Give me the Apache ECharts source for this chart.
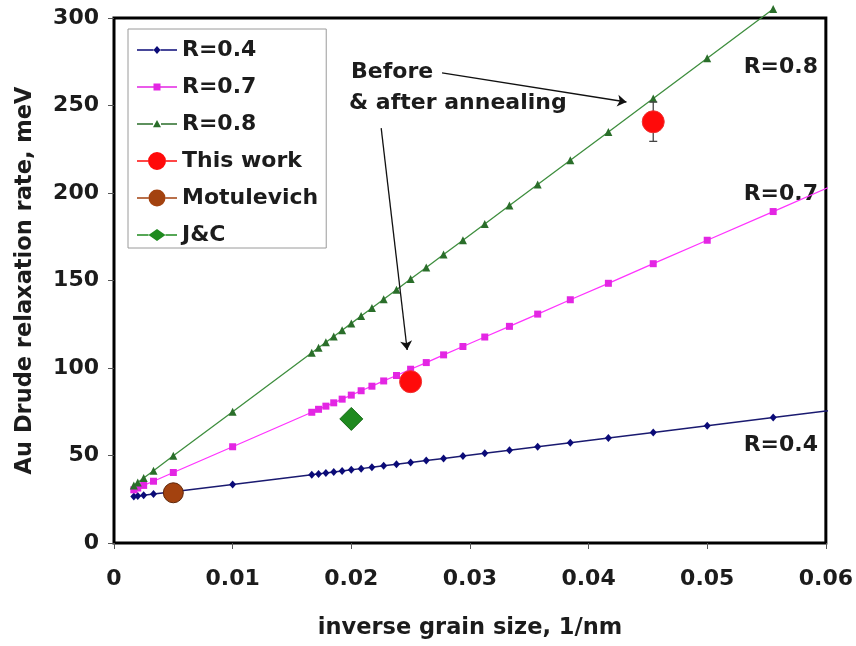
<!DOCTYPE html>
<html><head><meta charset="utf-8">
<script src="https://cdn.jsdelivr.net/npm/echarts@6/dist/echarts.min.js"></script>
<style>html,body{margin:0;padding:0;background:#fff}#c{width:856px;height:646px}</style>
</head><body><div id="c"></div>
<script>
// ---- data ----
const inverseSize = [0.00167,0.002,0.0025,0.00333,0.005,0.01,0.01667,0.01724,0.01786,0.01852,0.01923,0.02,0.02083,0.02174,0.02273,0.02381,0.025,0.02632,0.02778,0.02941,0.03125,0.03333,0.03571,0.03846,0.04167,0.04545,0.05,0.05556,0.0625];
const r04 = [26.6,26.9,27.3,28.0,29.3,33.4,39.0,39.5,40.0,40.6,41.2,41.8,42.5,43.3,44.1,45.0,46.0,47.1,48.3,49.7,51.3,53.0,55.0,57.3,60.0,63.2,67.0,71.7,77.5];
const r07 = [30.4,31.4,32.9,35.3,40.3,55.0,74.7,76.4,78.2,80.1,82.2,84.5,87.0,89.6,92.6,95.7,99.3,103.1,107.5,112.3,117.7,123.8,130.8,139.0,148.4,159.6,173.0,189.4,209.9];
const r08 = [32.9,34.6,37.1,41.3,49.8,75.0,108.7,111.6,114.7,118.0,121.6,125.5,129.7,134.3,139.3,144.7,150.8,157.4,164.8,173.0,182.3,192.8,204.8,218.7,234.9,254.0,277.0,305.1];
const thisWork = [[0.025, 92.2], [0.04545, 240.7]];
const thisWorkErr = [[0.04545, 229.5, 252.0]];
const motulevich = [[0.005, 28.7]];
const jc = [[0.02, 70.9]];
const xTicks = [0, 0.01, 0.02, 0.03, 0.04, 0.05, 0.06];
const yTicks = [0, 50, 100, 150, 200, 250, 300];
const seriesNames = ['R=0.4', 'R=0.7', 'R=0.8', 'This work', 'Motulevich', 'J&C'];
const annotationArrows = [
  [[0.02765, 268.6], [0.04319, 252.0]],
  [[0.02252, 237.1], [0.02471, 110.3]]
];
const noteLines = ['Before', '& after annealing'];
const curveLabels = ['R=0.8', 'R=0.7', 'R=0.4'];

// ---- helpers ----
function pairs(xs, ys) { return ys.map((y, i) => [xs[i], y]); }
const FONT = '"DejaVu Sans", "Liberation Sans", Arial, sans-serif';

// legend icons: 40x20 box, line through middle plus marker
function icon(shape, hw) {
  const a = 'M0 0 L0.01 0 L0.01 0.01 Z M39.99 19.99 L40 19.99 L40 20 L39.99 20 Z ';
  const l = 20 - hw, r = 20 + hw;
  const line = `M0 9.3 L${l} 9.3 L${l} 10.7 L0 10.7 Z M${r} 9.3 L40 9.3 L40 10.7 L${r} 10.7 Z `;
  let s = '';
  if (shape === 'diamond') s = `M20 ${10-hw-0.5} L${r} 10 L20 ${10+hw+0.5} L${l} 10 Z`;
  else if (shape === 'diamondWide') s = `M20 ${10-hw*0.72} L${r} 10 L20 ${10+hw*0.72} L${l} 10 Z`;
  else if (shape === 'square') s = `M${l} ${10-hw} L${r} ${10-hw} L${r} ${10+hw} L${l} ${10+hw} Z`;
  else if (shape === 'triangle') s = `M20 ${10-hw} L${r} ${10+hw*0.8} L${l} ${10+hw*0.8} Z`;
  else if (shape === 'circle') s = `M${l} 10 A${hw} ${hw} 0 1 1 ${r} 10 A${hw} ${hw} 0 1 1 ${l} 10 Z`;
  return 'path://' + a + line + s;
}

const chart = echarts.init(document.getElementById('c'), null, {renderer: 'canvas'});
const txt = {fontFamily: FONT, fontWeight: 'bold', fontSize: 22, color: '#1c1c1c'};

const option = {
  animation: false,
  backgroundColor: '#fff',
  grid: {left: 114, right: 28, top: 18, bottom: 103, show: true, borderColor: '#000', borderWidth: 3, backgroundColor: 'transparent'},
  legend: {
    orient: 'vertical', left: 128, top: 29,
    padding: [10, 8, 2, 9],
    itemWidth: 40, itemHeight: 20, itemGap: 15,
    backgroundColor: '#fff', borderColor: '#9a9a9a', borderWidth: 1, borderRadius: 0,
    itemStyle: {borderWidth: 0},
    textStyle: Object.assign({}, txt, {lineHeight: 22}),
    data: [
      {name: seriesNames[0], icon: icon('diamond', 3.5)},
      {name: seriesNames[1], icon: icon('square', 3.5)},
      {name: seriesNames[2], icon: icon('triangle', 4)},
      {name: seriesNames[3], icon: icon('circle', 9)},
      {name: seriesNames[4], icon: icon('circle', 8.5)},
      {name: seriesNames[5], icon: icon('diamondWide', 8.5)}
    ]
  },
  xAxis: {
    type: 'value', min: xTicks[0], max: xTicks[xTicks.length - 1], interval: xTicks[1] - xTicks[0],
    axisLine: {show: false},
    axisTick: {show: true, length: 6, lineStyle: {color: '#555', width: 1}},
    splitLine: {show: false},
    axisLabel: Object.assign({}, txt, {margin: 25, formatter: v => v === 0 ? '0' : v.toFixed(2)}),
    name: 'inverse grain size, 1/nm', nameLocation: 'middle', nameGap: 74,
    nameTextStyle: Object.assign({}, txt, {fontSize: 22.5})
  },
  yAxis: {
    type: 'value', min: yTicks[0], max: yTicks[yTicks.length - 1], interval: yTicks[1] - yTicks[0],
    axisLine: {show: false},
    axisTick: {show: true, length: 6, lineStyle: {color: '#555', width: 1}},
    splitLine: {show: false},
    axisLabel: Object.assign({}, txt, {margin: 15}),
    name: 'Au Drude relaxation rate, meV', nameLocation: 'middle', nameGap: 77, nameRotate: 90,
    nameTextStyle: Object.assign({}, txt, {fontSize: 22.5})
  },
  series: [
    {name: seriesNames[0], type: 'line', data: pairs(inverseSize, r04), symbol: 'diamond', symbolSize: [7, 8],
      itemStyle: {color: '#0b0b78'}, lineStyle: {color: '#1a1a70', width: 1.5}, z: 3},
    {name: seriesNames[1], type: 'line', data: pairs(inverseSize, r07), symbol: 'rect', symbolSize: 7,
      itemStyle: {color: '#e326e3'}, lineStyle: {color: '#ff33ff', width: 1.3}, z: 3},
    {name: seriesNames[2], type: 'line', data: pairs(inverseSize, r08), symbol: 'triangle', symbolSize: 8, clip: false,
      itemStyle: {color: '#2a6e2a'}, lineStyle: {color: '#3e8e3e', width: 1.3}, z: 3},
    {type: 'custom', name: 'errorbar', data: thisWorkErr, z: 4, silent: true, clip: false,
      encode: {x: 0, y: [1, 2]},
      renderItem: function (params, api) {
        const x = api.value(0);
        const lo = api.coord([x, api.value(1)]);
        const hi = api.coord([x, api.value(2)]);
        const st = {stroke: '#444', lineWidth: 1.3};
        return {type: 'group', children: [
          {type: 'line', shape: {x1: lo[0], y1: lo[1], x2: hi[0], y2: hi[1]}, style: st},
          {type: 'line', shape: {x1: lo[0] - 4, y1: lo[1], x2: lo[0] + 4, y2: lo[1]}, style: st},
          {type: 'line', shape: {x1: hi[0] - 4, y1: hi[1], x2: hi[0] + 4, y2: hi[1]}, style: st}
        ]};
      }},
    {name: seriesNames[3], type: 'scatter', data: thisWork, symbol: 'circle', symbolSize: 22, z: 5,
      itemStyle: {color: '#ff0a0a', borderColor: '#f03030', borderWidth: 1, opacity: 1},
      markLine: {
        silent: true, animation: false, symbol: ['none', 'arrow'], symbolSize: 9,
        label: {show: false},
        lineStyle: {color: '#111', width: 1.3, type: 'solid'},
        emphasis: {disabled: true},
        data: annotationArrows.map(a => [{coord: a[0]}, {coord: a[1]}])
      }},
    {name: seriesNames[4], type: 'scatter', data: motulevich, symbol: 'circle', symbolSize: 20, z: 5,
      itemStyle: {color: '#a3420f', borderColor: '#5e2406', borderWidth: 1, opacity: 1}},
    {name: seriesNames[5], type: 'scatter', data: jc, symbol: 'diamond', symbolSize: 23, z: 5,
      itemStyle: {color: '#1f8a1f', borderColor: '#156a15', borderWidth: 1, opacity: 1}}
  ],
  graphic: [
    {type: 'text', left: 351, top: 61, style: {text: noteLines[0], font: 'bold 22px ' + FONT, fill: '#1c1c1c'}},
    {type: 'text', left: 349, top: 92, style: {text: noteLines[1], font: 'bold 22px ' + FONT, fill: '#1c1c1c'}},
    {type: 'text', x: 818, y: 67, style: {text: curveLabels[0], font: 'bold 22px ' + FONT, fill: '#1c1c1c', align: 'right', verticalAlign: 'middle'}},
    {type: 'text', x: 818, y: 194, style: {text: curveLabels[1], font: 'bold 22px ' + FONT, fill: '#1c1c1c', align: 'right', verticalAlign: 'middle'}},
    {type: 'text', x: 818, y: 445, style: {text: curveLabels[2], font: 'bold 22px ' + FONT, fill: '#1c1c1c', align: 'right', verticalAlign: 'middle'}}
  ]
};
chart.setOption(option);
</script>
</body></html>
